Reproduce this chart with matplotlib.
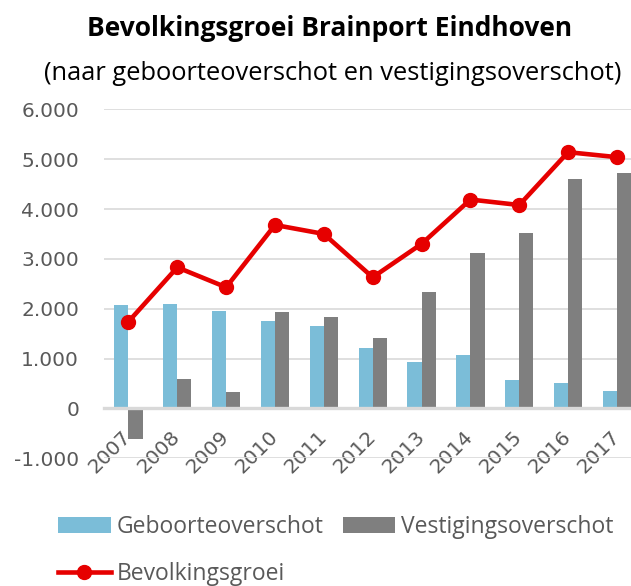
import matplotlib.pyplot as plt
from matplotlib.ticker import FuncFormatter

plt.rcParams['font.family'] = ['Open Sans', 'DejaVu Sans']

# data
jaren = ['2007', '2008', '2009', '2010', '2011', '2012', '2013', '2014', '2015', '2016', '2017']
geboorte = [2080, 2100, 1960, 1760, 1650, 1220, 940, 1080, 580, 520, 340]
vestiging = [-620, 600, 320, 1940, 1840, 1410, 2340, 3110, 3510, 4610, 4730]
groei = [1740, 2830, 2430, 3680, 3500, 2630, 3300, 4190, 4080, 5140, 5040]

blauw = '#7bbdd8'
grijs = '#7f7f7f'
rood = '#e60000'
tekst = '#595959'

fig = plt.figure(figsize=(6.31, 5.86), dpi=100)
ax = fig.add_axes([104 / 631, 1 - 458.3 / 586, 537.4 / 631, 349 / 586])

x = range(len(jaren))
w = 0.29
b1 = ax.bar([i - w / 2 for i in x], geboorte, w, color=blauw, label='Geboorteoverschot')
b2 = ax.bar([i + w / 2 for i in x], vestiging, w, color=grijs, label='Vestigingsoverschot')
l1, = ax.plot(x, groei, color=rood, lw=3.3, marker='o', ms=10, label='Bevolkingsgroei')

ax.set_xlim(-0.5, 10.5)
ax.set_ylim(-1000, 6000)
ax.set_yticks(range(-1000, 6001, 1000))
ax.yaxis.set_major_formatter(FuncFormatter(lambda v, p: f'{int(v):,}'.replace(',', '.')))
ax.set_axisbelow(True)
ax.yaxis.grid(True, color='#d9d9d9', lw=1.2)

for s in ['top', 'right', 'left']:
    ax.spines[s].set_visible(False)
ax.spines['bottom'].set_position(('data', 0))
ax.spines['bottom'].set_color('#d9d9d9')
ax.spines['bottom'].set_linewidth(2.4)

ax.set_xticks(list(x))
ax.set_xticklabels(jaren, rotation=45, ha='right', va='center', rotation_mode='anchor',
                   family='DejaVu Sans', fontsize=14.5, color=tekst)
ax.tick_params(axis='both', length=0)
ax.tick_params(axis='x', pad=18)
ax.tick_params(axis='y', pad=18)
for lab in ax.get_yticklabels():
    lab.set_family('DejaVu Sans')
    lab.set_fontsize(14.5)
    lab.set_color(tekst)

fig.text(0.523, 1 - 36 / 586, 'Bevolkingsgroei Brainport Eindhoven',
         ha='center', va='baseline', fontsize=19, fontweight='bold', color='black')
fig.text(0.528, 1 - 80 / 586, '(naar geboorteoverschot en vestigingsoverschot)',
         ha='center', va='baseline', fontsize=18.4, color='black')

fig.legend([b1, l1, b2], ['Geboorteoverschot', 'Bevolkingsgroei', 'Vestigingsoverschot'],
           ncol=2, loc='upper left', bbox_to_anchor=(58 / 631, 1 - 515 / 586),
           frameon=False, fontsize=16.5, labelcolor=tekst, borderpad=0, borderaxespad=0,
           handlelength=2.3, handletextpad=0.25, columnspacing=0.85, labelspacing=1.0)

fig.savefig('out.png', dpi=100)
